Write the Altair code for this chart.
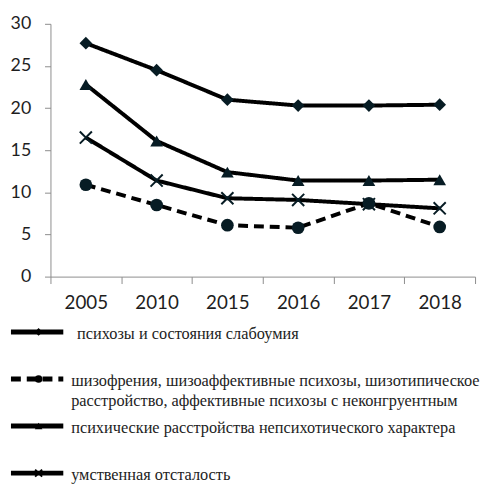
import altair as alt
import pandas as pd

years = ["2005", "2010", "2015", "2016", "2017", "2018"]
series = [
    "психозы и состояния слабоумия",
    "шизофрения, шизоаффективные психозы, шизотипическое расстройство, аффективные психозы с неконгруентным аффектом",
    "психические расстройства непсихотического характера",
    "умственная отсталость",
]
v_psych = [27.7, 24.5, 21.0, 20.3, 20.3, 20.4]
v_schiz = [10.9, 8.5, 6.1, 5.8, 8.7, 5.9]
v_nonpsych = [22.8, 16.1, 12.4, 11.4, 11.4, 11.5]
v_retard = [16.5, 11.4, 9.3, 9.1, 8.6, 8.1]
legend_line1 = [
    "психозы и состояния слабоумия",
    "шизофрения, шизоаффективные психозы, шизотипическое",
    "психические расстройства непсихотического характера",
    "умственная отсталость",
]
legend_line2 = ["", "расстройство, аффективные психозы с неконгруентным", "", ""]

rows = []
for s, vals in zip(series, [v_psych, v_schiz, v_nonpsych, v_retard]):
    for y, v in zip(years, vals):
        rows.append({"year": y, "value": v, "series": s})
df = pd.DataFrame(rows)
leg = pd.DataFrame({"series": series, "l1": legend_line1, "l2": legend_line2})

XPATH = "M-1,-1L1,1M1,-1L-1,1"
MARK = "#071c24"
dash_scale = alt.Scale(domain=series, range=[[1, 0], [10, 6], [1, 0], [1, 0]])
shape_scale = alt.Scale(domain=series, range=["diamond", "circle", "triangle-up", XPATH])

x_enc = alt.X(
    "year:O",
    scale=alt.Scale(type="band", paddingInner=0, paddingOuter=0),
    axis=alt.Axis(
        title=None, labelAngle=0, tickBand="extent", tickSize=7, labelPadding=10,
        domainColor="#8c8c8c", tickColor="#8c8c8c", labelFont="Lato", labelFontSize=19,
        labelColor="#1e1e1e", grid=False,
    ),
)
y_enc = alt.Y(
    "value:Q",
    scale=alt.Scale(domain=[0, 30], nice=False),
    axis=alt.Axis(
        title=None, values=[0, 5, 10, 15, 20, 25, 30], tickSize=6, labelPadding=14,
        domainColor="#8c8c8c", tickColor="#8c8c8c", labelFont="Lato", labelFontSize=18,
        labelColor="#1e1e1e", grid=False,
    ),
)

lines = alt.Chart(df).mark_line(color="black", strokeWidth=4).encode(
    x=x_enc, y=y_enc, detail="series:N",
    strokeDash=alt.StrokeDash("series:N", scale=dash_scale, legend=None),
)
filled_pts = alt.Chart(df).transform_filter(
    alt.datum.series != series[3]
).mark_point(filled=True, color=MARK, opacity=1, size=165).encode(
    x=x_enc, y=y_enc,
    shape=alt.Shape("series:N", scale=shape_scale, legend=None),
)
x_pts = alt.Chart(df).transform_filter(
    alt.datum.series == series[3]
).mark_point(shape=XPATH, filled=False, color=MARK, strokeWidth=2, opacity=1, size=150).encode(
    x=x_enc, y=y_enc,
)
main = alt.layer(lines, filled_pts, x_pts)

# legend rows drawn below the plot with their own point scale
ly = alt.Y("series:N", scale=alt.Scale(type="point", domain=series, range=[312, 455], padding=0), axis=None)
leg_rule = alt.Chart(leg).mark_rule(color="black", strokeWidth=5).encode(
    x=alt.value(-40), x2=alt.value(13), y=ly,
    strokeDash=alt.StrokeDash("series:N", scale=dash_scale, legend=None),
)
leg_pts = alt.Chart(leg).transform_filter(
    alt.datum.series != series[3]
).mark_point(filled=True, color="black", opacity=1, size=60).encode(
    x=alt.value(-12), y=ly,
    shape=alt.Shape("series:N", scale=shape_scale, legend=None),
)
leg_x = alt.Chart(leg).transform_filter(
    alt.datum.series == series[3]
).mark_point(shape=XPATH, filled=False, color="black", strokeWidth=2, opacity=1, size=50).encode(
    x=alt.value(-12), y=ly,
)
txt_style = dict(align="left", baseline="middle", font="Liberation Serif", fontSize=16.5, color="#222222")
leg_t1 = alt.Chart(leg).transform_filter(alt.datum.series == series[0]).mark_text(dy=2, **txt_style).encode(
    x=alt.value(27), y=ly, text="l1:N")
leg_t2 = alt.Chart(leg).transform_filter(alt.datum.series != series[0]).mark_text(dy=2, **txt_style).encode(
    x=alt.value(21), y=ly, text="l1:N")
leg_t3 = alt.Chart(leg).transform_filter(alt.datum.l2 != "").mark_text(dy=22, **txt_style).encode(
    x=alt.value(21), y=ly, text="l2:N")
legend = alt.layer(leg_rule, leg_pts, leg_x, leg_t1, leg_t2, leg_t3)

chart = alt.layer(main, legend).resolve_scale(y="independent").properties(
    width=430, height=256,
    padding={"left": 0, "top": 4, "right": 0, "bottom": -3},
).configure_view(stroke=None)

chart.save("out.html", embed_options={"renderer": "svg", "actions": False})
